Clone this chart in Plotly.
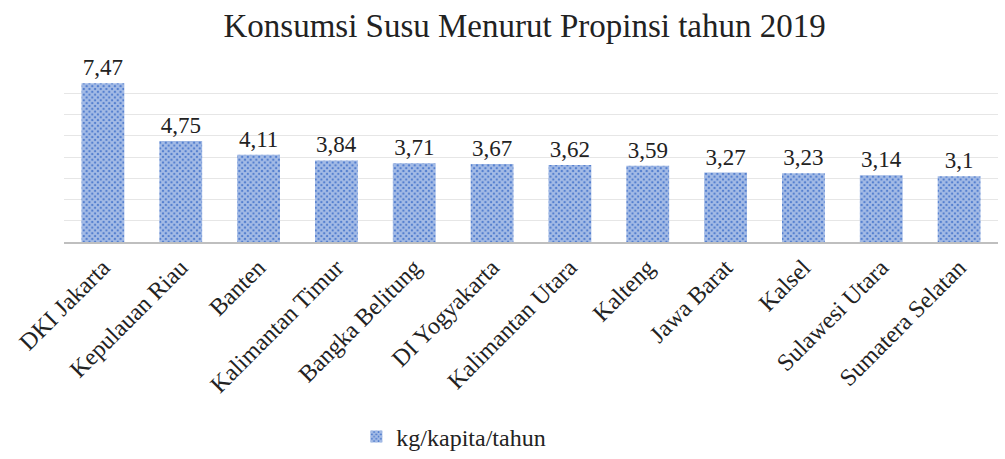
import plotly.graph_objects as go

provinsi = ["DKI Jakarta", "Kepulauan Riau", "Banten", "Kalimantan Timur",
            "Bangka Belitung", "DI Yogyakarta", "Kalimantan Utara", "Kalteng",
            "Jawa Barat", "Kalsel", "Sulawesi Utara", "Sumatera Selatan"]
konsumsi = [7.47, 4.75, 4.11, 3.84, 3.71, 3.67, 3.62, 3.59, 3.27, 3.23, 3.14, 3.1]
label_teks = [str(v).replace(".", ",") for v in konsumsi]

serif = "Liberation Serif, Times New Roman, serif"

fig = go.Figure()
fig.add_trace(go.Bar(
    x=provinsi,
    y=konsumsi,
    name="kg/kapita/tahun",
    text=label_teks,
    textposition="outside",
    cliponaxis=False,
    textfont=dict(family=serif, size=23, color="#222222"),
    marker=dict(
        color="#4472C4",
        pattern=dict(shape="x", fgcolor="white", bgcolor="#4A78CC",
                     size=4, solidity=0.75),
        line=dict(width=0),
    ),
))

fig.update_layout(
    width=1005, height=459,
    margin=dict(l=64, r=7, t=72, b=217, autoexpand=False),
    paper_bgcolor="white", plot_bgcolor="white",
    title=dict(text="Konsumsi Susu Menurut Propinsi tahun 2019",
               x=0.522, xanchor="center", y=0.945, yanchor="middle",
               font=dict(family=serif, size=33, color="#222222")),
    bargap=0.45,
    showlegend=True,
    legend=dict(orientation="h", x=0.313, xanchor="left", y=-1.147, yanchor="middle",
                itemwidth=30,
                font=dict(family=serif, size=24, color="#222222")),
    xaxis=dict(tickangle=-45, showline=True, linecolor="#BFBFBF", linewidth=2,
               automargin=False, ticks="",
               tickfont=dict(family=serif, size=24, color="#222222")),
    yaxis=dict(range=[0, 8], dtick=1, showticklabels=False, showgrid=True,
               automargin=False,
               gridcolor="#E6E6E6", gridwidth=1, zeroline=False),
)

# browser default body margin would shift the figure by 8px
fig.write_html("out.html", config={"displayModeBar": False},
               post_script="document.body.style.margin='0';")
